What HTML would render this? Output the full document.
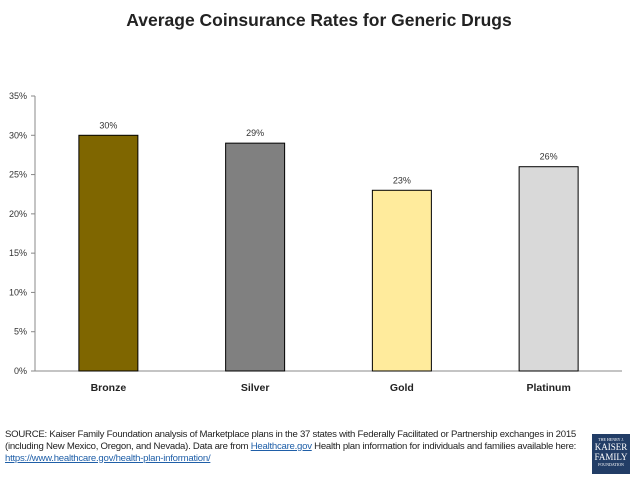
<!DOCTYPE html>
<html><head><meta charset="utf-8"><style>
body{margin:0;background:#fff;font-family:"Liberation Sans",sans-serif;}
#wrap{position:relative;width:638px;height:479px;overflow:hidden;}
.title{position:absolute;left:0;width:638px;top:10px;text-align:center;font-weight:bold;font-size:17.5px;color:#222;}
.src{position:absolute;left:5px;top:429px;font-size:9.6px;line-height:11.8px;color:#222;letter-spacing:-0.25px;white-space:nowrap;}
.src a{color:#1f5fa8;text-decoration:underline;}
.logo{position:absolute;left:592px;top:434px;width:38px;height:40px;background:#223d66;color:#fff;font-family:"Liberation Serif",serif;text-align:center;}
</style></head><body>
<div id="wrap">
<div class="title">Average Coinsurance Rates for Generic Drugs</div>
<svg id="chart" width="638" height="400" style="position:absolute;left:0;top:0"></svg>
<div class="src">SOURCE: Kaiser Family Foundation analysis of Marketplace plans in the 37 states with Federally Facilitated or Partnership exchanges in 2015<br>(including New Mexico, Oregon, and Nevada). Data are from <a>Healthcare.gov</a> Health plan information for individuals and families available here:<br><a>https://www.healthcare.gov/health-plan-information/</a></div>
<div class="logo"><div style="font-size:4px;margin-top:3px">THE HENRY J.</div><div style="font-size:9px;line-height:10px">KAISER<br>FAMILY</div><div style="font-size:4px">FOUNDATION</div></div>
</div>
<script>
const categories=["Bronze","Silver","Gold","Platinum"];
const values=[30,29,23,26];
const colors=["#7f6600","#808080","#ffeb9c","#d9d9d9"];
const ticks=[0,5,10,15,20,25,30,35];
const svg=document.getElementById('chart');
const NS="http://www.w3.org/2000/svg";
const x0=35,x1=622,yTop=96,yBot=371,yMax=35;
const y=v=>yBot-(v/yMax)*(yBot-yTop);
const band=(x1-x0)/categories.length;
const xc=i=>x0+band*(i+0.5);
function mk(t,a){const e=document.createElementNS(NS,t);for(const k in a)e.setAttribute(k,a[k]);svg.appendChild(e);return e;}
const ax=mk('line',{x1:x0,y1:yTop,x2:x0,y2:yBot,stroke:'#888'});


const bx=mk('line',{x1:x0,y1:yBot,x2:x1,y2:yBot,stroke:'#888'});


ticks.forEach(t=>{
 const l=mk('line',{x1:x0-4,y1:y(t),x2:x0,y2:y(t),stroke:'#888'});
 
 
 const tx=mk('text',{x:x0-8,y:y(t)+3,'text-anchor':'end','font-size':'9','fill':'#333'});
 tx.textContent=t+'%';
 
 
});
categories.forEach((c,i)=>{
 const w=59;
 const r=mk('rect',{x:xc(i)-w/2,y:y(values[i]),width:w,height:yBot-y(values[i]),fill:colors[i],stroke:'#000','stroke-width':1});
 
 
 const v=mk('text',{x:xc(i),y:y(values[i])-7,'text-anchor':'middle','font-size':'9','fill':'#333'});
 v.textContent=values[i]+'%';
 
 
 const cl=mk('text',{x:xc(i),y:391,'text-anchor':'middle','font-size':'10.5','font-weight':'bold','fill':'#222'});
 cl.textContent=c;
 
 
});
</script>
</body></html>
